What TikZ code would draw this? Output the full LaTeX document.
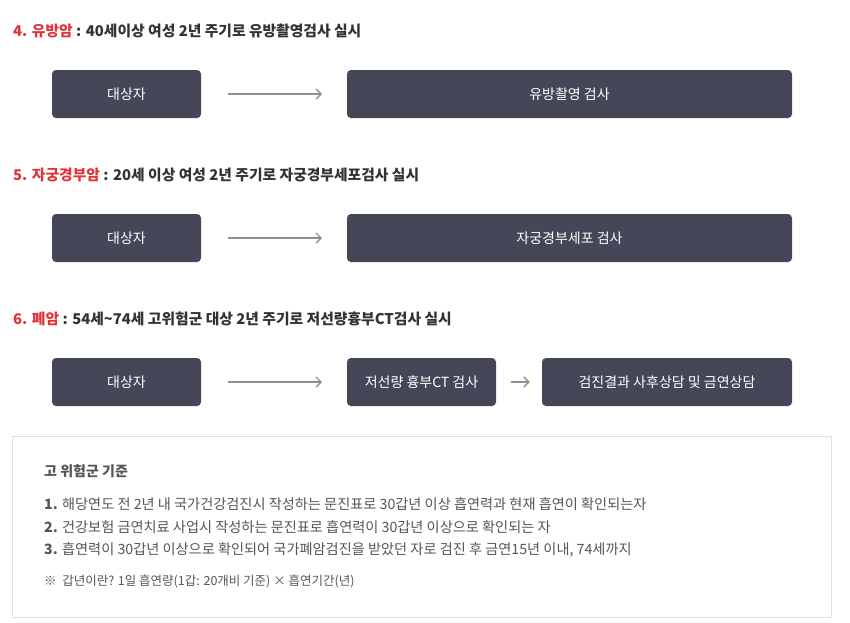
\documentclass[tikz,border=0pt]{standalone}
\usepackage{fontspec}
\setmainfont{Noto Sans CJK KR}
\usetikzlibrary{arrows.meta}
\definecolor{boxc}{HTML}{454759}
\definecolor{redc}{HTML}{E0343A}
\definecolor{txt}{HTML}{333333}
\definecolor{body}{HTML}{555555}
\definecolor{arr}{HTML}{8E8F9A}
\tikzset{
 boxn/.style={fill=boxc,rounded corners=4pt,text=white,font=\fontsize{14}{16}\selectfont,inner sep=0pt,minimum height=48pt},
 head/.style={anchor=west,inner sep=0pt,text=txt,font=\fontsize{14.8}{17}\selectfont\bfseries},
 ar/.style={draw=arr,line width=1.3pt,-{Straight Barb[length=5pt,width=10pt]}},
 bodyt/.style={anchor=west,inner sep=0pt,text=body,font=\fontsize{14.2}{16}\selectfont}
}
\begin{document}
\begin{tikzpicture}[x=1pt,y=-1pt]
\useasboundingbox (0,0) rectangle (850,622);
% row 1
\node[head] (h1) at (13,31) {\textcolor{redc}{4. 유방암} : 40세이상 여성 2년 주기로 유방촬영검사 실시};
\node[boxn,minimum width=149pt] (a1) at (126.5,94) {대상자};
\node[boxn,minimum width=445pt] (b1) at (569.5,94) {유방촬영 검사};
\coordinate (s1) at (228,94); \coordinate (e1) at (322,94);
\draw[ar] (s1) -- (e1);
% row 2
\node[head] (h2) at (13,175) {\textcolor{redc}{5. 자궁경부암} : 20세 이상 여성 2년 주기로 자궁경부세포검사 실시};
\node[boxn,minimum width=149pt] (a2) at (126.5,238) {대상자};
\node[boxn,minimum width=445pt] (b2) at (569.5,238) {자궁경부세포 검사};
\coordinate (s2) at (228,238); \coordinate (e2) at (322,238);
\draw[ar] (s2) -- (e2);
% row 3
\node[head] (h3) at (13,319) {\textcolor{redc}{6. 폐암} : 54세\textasciitilde 74세 고위험군 대상 2년 주기로 저선량흉부CT검사 실시};
\node[boxn,minimum width=149pt] (a3) at (126.5,382) {대상자};
\node[boxn,minimum width=149pt] (b3) at (421.5,382) {저선량 흉부CT 검사};
\node[boxn,minimum width=250pt] (c3) at (667,382) {검진결과 사후상담 및 금연상담};
\coordinate (s3) at (228,382); \coordinate (e3) at (322,382);
\draw[ar] (s3) -- (e3);
\draw[ar] ([xshift=15pt]b3.east) -- ([xshift=-12pt]c3.west);
% panel
\node[draw=black!12,line width=0.8pt,minimum width=819pt,minimum height=181pt,inner sep=0pt] (p) at (421.5,526.5) {};
\node[bodyt,font=\fontsize{14}{16}\selectfont\bfseries] (t0) at (44,471) {고 위험군 기준};
\node[bodyt] (t1) at (44,504) {\textbf{1.} 해당연도 전 2년 내 국가건강검진시 작성하는 문진표로 30갑년 이상 흡연력과 현재 흡연이 확인되는자};
\node[bodyt] (t2) at (44,527) {\textbf{2.} 건강보험 금연치료 사업시 작성하는 문진표로 흡연력이 30갑년 이상으로 확인되는 자};
\node[bodyt] (t3) at (44,550) {\textbf{3.} 흡연력이 30갑년 이상으로 확인되어 국가폐암검진을 받았던 자로 검진 후 금연15년 이내, 74세까지};
\node[bodyt,font=\fontsize{12.5}{14}\selectfont] (t4) at (44,581) {※\ \ 갑년이란? 1일 흡연량(1갑: 20개비 기준) × 흡연기간(년)};
\end{tikzpicture}
\end{document}
